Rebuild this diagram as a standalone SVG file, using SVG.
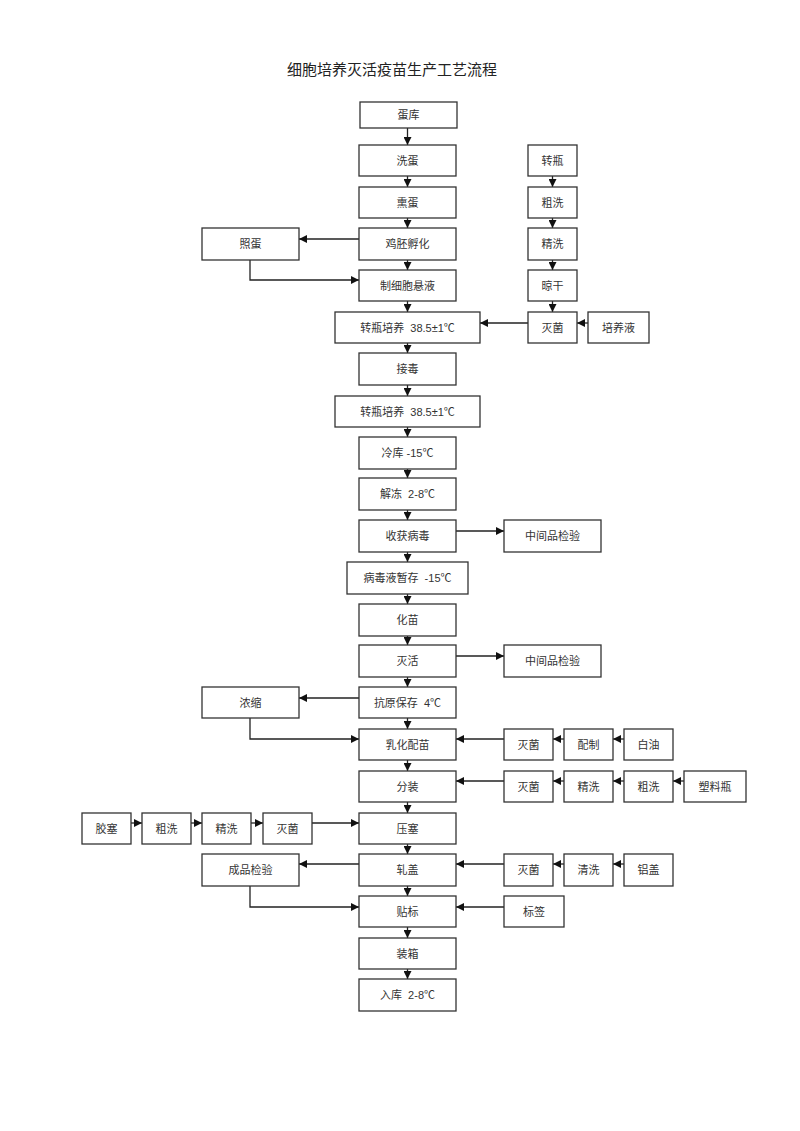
<svg xmlns="http://www.w3.org/2000/svg" width="800" height="1131" viewBox="0 0 800 1131">
<style>
.b{fill:#fff;stroke:#333;stroke-width:1.3}
.t{font-family:"Liberation Sans","Noto Sans CJK SC",sans-serif;font-size:11px;fill:#333;text-anchor:middle;dominant-baseline:central}
.c{fill:none;stroke:#222;stroke-width:1.3;marker-end:url(#ah)}
.title{font-family:"Noto Sans CJK SC",sans-serif;font-size:15px;fill:#222;text-anchor:middle}
</style>
<defs>
<marker id="ah" markerUnits="userSpaceOnUse" markerWidth="8" markerHeight="8" refX="8" refY="4" orient="auto">
<path d="M0,0 L8,4 L0,8 z" fill="#111"/>
</marker>
</defs>
<rect width="800" height="1131" fill="#fff"/>
<text class="title" x="392" y="75">细胞培养灭活疫苗生产工艺流程</text>

<g id="connectors">
<path class="c" d="M407.5,128 V145"/>
<path class="c" d="M407.5,176 V187"/>
<path class="c" d="M407.5,218 V228"/>
<path class="c" d="M407.5,260 V270"/>
<path class="c" d="M407.5,301 V312"/>
<path class="c" d="M407.5,343 V353"/>
<path class="c" d="M407.5,385 V396"/>
<path class="c" d="M407.5,427 V437"/>
<path class="c" d="M407.5,469 V478"/>
<path class="c" d="M407.5,510 V520"/>
<path class="c" d="M407.5,552 V562"/>
<path class="c" d="M407.5,594 V604"/>
<path class="c" d="M407.5,636 V645"/>
<path class="c" d="M407.5,677 V687"/>
<path class="c" d="M407.5,718 V729"/>
<path class="c" d="M407.5,760 V771"/>
<path class="c" d="M407.5,802 V813"/>
<path class="c" d="M407.5,844 V854"/>
<path class="c" d="M407.5,886 V896"/>
<path class="c" d="M407.5,927 V938"/>
<path class="c" d="M407.5,969 V979"/>
<path class="c" d="M552.5,176 V187"/>
<path class="c" d="M552.5,218 V228"/>
<path class="c" d="M552.5,260 V270"/>
<path class="c" d="M552.5,301 V312"/>
<path class="c" d="M359,239 H299"/>
<path class="c" d="M250,260 V280 H359"/>
<path class="c" d="M528,323 H480"/>
<path class="c" d="M588,323 H577"/>
<path class="c" d="M456,531 H504"/>
<path class="c" d="M456,656 H504"/>
<path class="c" d="M359,698 H299"/>
<path class="c" d="M250,718 V739 H359"/>
<path class="c" d="M504,739 H456"/>
<path class="c" d="M564,739 H553"/>
<path class="c" d="M624,739 H613"/>
<path class="c" d="M504,781 H456"/>
<path class="c" d="M564,781 H553"/>
<path class="c" d="M624,781 H613"/>
<path class="c" d="M684,781 H673"/>
<path class="c" d="M131,823 H142"/>
<path class="c" d="M191,823 H202"/>
<path class="c" d="M251,823 H263"/>
<path class="c" d="M312,823 H359"/>
<path class="c" d="M359,864 H299"/>
<path class="c" d="M504,864 H456"/>
<path class="c" d="M564,864 H553"/>
<path class="c" d="M624,864 H613"/>
<path class="c" d="M250,886 V907 H359"/>
<path class="c" d="M504,907 H456"/>
</g>

<g id="n_danku"><rect class="b" x="360" y="102" width="97" height="26"/><text class="t" x="408.5" y="115">蛋库</text></g>
<g id="n_xidan"><rect class="b" x="359" y="145" width="97" height="31"/><text class="t" x="407.5" y="160.5">洗蛋</text></g>
<g id="n_xundan"><rect class="b" x="359" y="187" width="97" height="31"/><text class="t" x="407.5" y="202.5">熏蛋</text></g>
<g id="n_jipei"><rect class="b" x="359" y="228" width="97" height="32"/><text class="t" x="407.5" y="244">鸡胚孵化</text></g>
<g id="n_zhixibao"><rect class="b" x="359" y="270" width="97" height="31"/><text class="t" x="407.5" y="285.5">制细胞悬液</text></g>
<g id="n_peiyang1"><rect class="b" x="335" y="312" width="145" height="31"/><text class="t" x="407.5" y="327.5" xml:space="preserve">转瓶培养  38.5±1℃</text></g>
<g id="n_jiedu"><rect class="b" x="359" y="353" width="97" height="32"/><text class="t" x="407.5" y="369">接毒</text></g>
<g id="n_peiyang2"><rect class="b" x="335" y="396" width="145" height="31"/><text class="t" x="407.5" y="411.5" xml:space="preserve">转瓶培养  38.5±1℃</text></g>
<g id="n_lengku"><rect class="b" x="359" y="437" width="97" height="32"/><text class="t" x="407.5" y="453">冷库 -15℃</text></g>
<g id="n_jiedong"><rect class="b" x="359" y="478" width="97" height="32"/><text class="t" x="407.5" y="494" xml:space="preserve">解冻  2-8℃</text></g>
<g id="n_shouhuo"><rect class="b" x="359" y="520" width="97" height="32"/><text class="t" x="407.5" y="536">收获病毒</text></g>
<g id="n_zancun"><rect class="b" x="347" y="562" width="121" height="32"/><text class="t" x="407.5" y="578" xml:space="preserve">病毒液暂存  -15℃</text></g>
<g id="n_huamiao"><rect class="b" x="359" y="604" width="97" height="32"/><text class="t" x="407.5" y="620">化苗</text></g>
<g id="n_miehuo"><rect class="b" x="359" y="645" width="97" height="32"/><text class="t" x="407.5" y="661">灭活</text></g>
<g id="n_kangyuan"><rect class="b" x="359" y="687" width="97" height="31"/><text class="t" x="407.5" y="702.5" xml:space="preserve">抗原保存  4℃</text></g>
<g id="n_ruhua"><rect class="b" x="359" y="729" width="97" height="31"/><text class="t" x="407.5" y="744.5">乳化配苗</text></g>
<g id="n_fenzhuang"><rect class="b" x="359" y="771" width="97" height="31"/><text class="t" x="407.5" y="786.5">分装</text></g>
<g id="n_yasai"><rect class="b" x="359" y="813" width="97" height="31"/><text class="t" x="407.5" y="828.5">压塞</text></g>
<g id="n_zhagai"><rect class="b" x="359" y="854" width="97" height="32"/><text class="t" x="407.5" y="870">轧盖</text></g>
<g id="n_tiebiao"><rect class="b" x="359" y="896" width="97" height="31"/><text class="t" x="407.5" y="911.5">贴标</text></g>
<g id="n_zhuangxiang"><rect class="b" x="359" y="938" width="97" height="31"/><text class="t" x="407.5" y="953.5">装箱</text></g>
<g id="n_ruku"><rect class="b" x="359" y="979" width="97" height="32"/><text class="t" x="407.5" y="995" xml:space="preserve">入库  2-8℃</text></g>

<g id="n_zhuanping"><rect class="b" x="528" y="145" width="49" height="31"/><text class="t" x="552.5" y="160.5">转瓶</text></g>
<g id="n_cuxi1"><rect class="b" x="528" y="187" width="49" height="31"/><text class="t" x="552.5" y="202.5">粗洗</text></g>
<g id="n_jingxi1"><rect class="b" x="528" y="228" width="49" height="32"/><text class="t" x="552.5" y="244">精洗</text></g>
<g id="n_lianggan"><rect class="b" x="528" y="270" width="49" height="31"/><text class="t" x="552.5" y="285.5">晾干</text></g>
<g id="n_miejun1"><rect class="b" x="528" y="312" width="49" height="31"/><text class="t" x="552.5" y="327.5">灭菌</text></g>
<g id="n_peiyangye"><rect class="b" x="588" y="312" width="61" height="31"/><text class="t" x="618.5" y="327.5">培养液</text></g>
<g id="n_zhaodan"><rect class="b" x="202" y="228" width="97" height="32"/><text class="t" x="250.5" y="244">照蛋</text></g>
<g id="n_jianyan1"><rect class="b" x="504" y="520" width="97" height="32"/><text class="t" x="552.5" y="536">中间品检验</text></g>
<g id="n_jianyan2"><rect class="b" x="504" y="645" width="97" height="32"/><text class="t" x="552.5" y="661">中间品检验</text></g>
<g id="n_nongsuo"><rect class="b" x="202" y="687" width="97" height="31"/><text class="t" x="250.5" y="702.5">浓缩</text></g>

<g id="n_miejun2"><rect class="b" x="504" y="729" width="49" height="31"/><text class="t" x="528.5" y="744.5">灭菌</text></g>
<g id="n_peizhi"><rect class="b" x="564" y="729" width="49" height="31"/><text class="t" x="588.5" y="744.5">配制</text></g>
<g id="n_baiyou"><rect class="b" x="624" y="729" width="49" height="31"/><text class="t" x="648.5" y="744.5">白油</text></g>

<g id="n_miejun3"><rect class="b" x="504" y="771" width="49" height="31"/><text class="t" x="528.5" y="786.5">灭菌</text></g>
<g id="n_jingxi2"><rect class="b" x="564" y="771" width="49" height="31"/><text class="t" x="588.5" y="786.5">精洗</text></g>
<g id="n_cuxi2"><rect class="b" x="624" y="771" width="49" height="31"/><text class="t" x="648.5" y="786.5">粗洗</text></g>
<g id="n_suliaoping"><rect class="b" x="684" y="771" width="62" height="31"/><text class="t" x="715" y="786.5">塑料瓶</text></g>

<g id="n_jiaosai"><rect class="b" x="82" y="813" width="49" height="31"/><text class="t" x="106.5" y="828.5">胶塞</text></g>
<g id="n_cuxi3"><rect class="b" x="142" y="813" width="49" height="31"/><text class="t" x="166.5" y="828.5">粗洗</text></g>
<g id="n_jingxi3"><rect class="b" x="202" y="813" width="49" height="31"/><text class="t" x="226.5" y="828.5">精洗</text></g>
<g id="n_miejun4"><rect class="b" x="263" y="813" width="49" height="31"/><text class="t" x="287.5" y="828.5">灭菌</text></g>

<g id="n_chengpin"><rect class="b" x="202" y="854" width="97" height="32"/><text class="t" x="250.5" y="870">成品检验</text></g>
<g id="n_miejun5"><rect class="b" x="504" y="854" width="49" height="32"/><text class="t" x="528.5" y="870">灭菌</text></g>
<g id="n_qingxi"><rect class="b" x="564" y="854" width="49" height="32"/><text class="t" x="588.5" y="870">清洗</text></g>
<g id="n_lvgai"><rect class="b" x="624" y="854" width="49" height="32"/><text class="t" x="648.5" y="870">铝盖</text></g>
<g id="n_biaoqian"><rect class="b" x="504" y="896" width="60" height="31"/><text class="t" x="534" y="911.5">标签</text></g>
</svg>
